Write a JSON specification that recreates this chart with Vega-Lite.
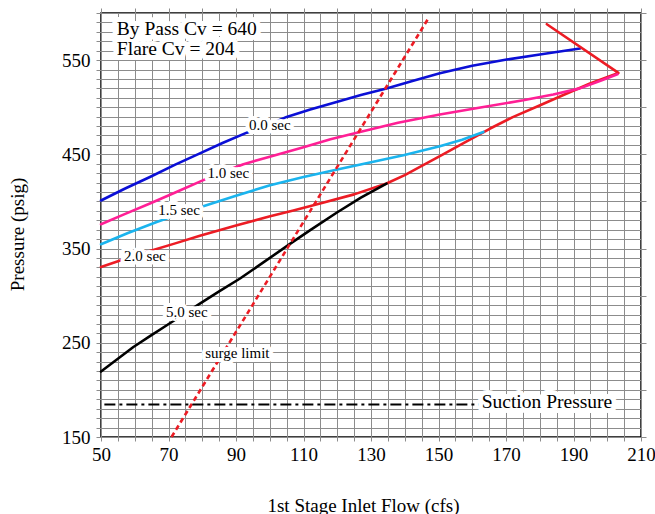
{
  "$schema": "https://vega.github.io/schema/vega-lite/v6.json",
  "autosize": {"type": "none"},
  "padding": {"left": 101, "top": 13, "right": 14, "bottom": 77},
  "width": 540,
  "height": 424,
  "background": "white",
  "config": {
    "font": "Liberation Serif",
    "view": {"stroke": "black", "strokeWidth": 1.5},
    "axis": {
      "labelFont": "Liberation Serif",
      "titleFont": "Liberation Serif",
      "labelFontSize": 19,
      "titleFontSize": 19,
      "labelColor": "black",
      "titleColor": "black",
      "titleFontWeight": "normal",
      "gridColor": "#8c8c8c",
      "gridWidth": 1,
      "gridOpacity": 1,
      "tickColor": "#8c8c8c",
      "domain": false
    }
  },
  "datasets": {
    "curves": [
      {"series": "0.0 sec", "i": 1, "x": 50, "y": 401},
      {"series": "0.0 sec", "i": 2, "x": 57, "y": 413.5},
      {"series": "0.0 sec", "i": 3, "x": 64.5, "y": 426},
      {"series": "0.0 sec", "i": 4, "x": 72, "y": 439},
      {"series": "0.0 sec", "i": 5, "x": 79.3, "y": 451},
      {"series": "0.0 sec", "i": 6, "x": 86, "y": 462},
      {"series": "0.0 sec", "i": 7, "x": 93.2, "y": 473},
      {"series": "0.0 sec", "i": 8, "x": 100, "y": 482},
      {"series": "0.0 sec", "i": 9, "x": 105, "y": 489.7},
      {"series": "0.0 sec", "i": 10, "x": 112, "y": 497.5},
      {"series": "0.0 sec", "i": 11, "x": 119.8, "y": 505.6},
      {"series": "0.0 sec", "i": 12, "x": 127, "y": 513},
      {"series": "0.0 sec", "i": 13, "x": 134.6, "y": 519.9},
      {"series": "0.0 sec", "i": 14, "x": 142, "y": 527.5},
      {"series": "0.0 sec", "i": 15, "x": 150.4, "y": 536},
      {"series": "0.0 sec", "i": 16, "x": 160, "y": 544},
      {"series": "0.0 sec", "i": 17, "x": 170.2, "y": 550.6},
      {"series": "0.0 sec", "i": 18, "x": 181, "y": 556.5},
      {"series": "0.0 sec", "i": 19, "x": 191.9, "y": 562.3},

      {"series": "2.0 sec", "i": 1, "x": 50, "y": 330.5},
      {"series": "2.0 sec", "i": 2, "x": 57, "y": 339},
      {"series": "2.0 sec", "i": 3, "x": 64.5, "y": 347.5},
      {"series": "2.0 sec", "i": 4, "x": 72, "y": 355.5},
      {"series": "2.0 sec", "i": 5, "x": 79.3, "y": 363.5},
      {"series": "2.0 sec", "i": 6, "x": 90, "y": 374.5},
      {"series": "2.0 sec", "i": 7, "x": 100.1, "y": 384.3},
      {"series": "2.0 sec", "i": 8, "x": 107, "y": 390.5},
      {"series": "2.0 sec", "i": 9, "x": 114.9, "y": 397.8},
      {"series": "2.0 sec", "i": 10, "x": 125, "y": 407.5},
      {"series": "2.0 sec", "i": 11, "x": 134.6, "y": 419},
      {"series": "2.0 sec", "i": 12, "x": 140, "y": 428},
      {"series": "2.0 sec", "i": 13, "x": 144.5, "y": 436.6},
      {"series": "2.0 sec", "i": 14, "x": 150.4, "y": 448},
      {"series": "2.0 sec", "i": 15, "x": 157, "y": 461},
      {"series": "2.0 sec", "i": 16, "x": 165.3, "y": 477.4},
      {"series": "2.0 sec", "i": 17, "x": 172, "y": 489.5},
      {"series": "2.0 sec", "i": 18, "x": 180.1, "y": 502.1},
      {"series": "2.0 sec", "i": 19, "x": 187, "y": 513},
      {"series": "2.0 sec", "i": 20, "x": 194.9, "y": 525.2},
      {"series": "2.0 sec", "i": 21, "x": 203.3, "y": 536.4},
      {"series": "2.0 sec", "i": 22, "x": 182.1, "y": 588.1},

      {"series": "1.0 sec", "i": 1, "x": 50, "y": 375.8},
      {"series": "1.0 sec", "i": 2, "x": 57, "y": 386.5},
      {"series": "1.0 sec", "i": 3, "x": 64.5, "y": 397.8},
      {"series": "1.0 sec", "i": 4, "x": 72, "y": 409.5},
      {"series": "1.0 sec", "i": 5, "x": 79.8, "y": 421.8},
      {"series": "1.0 sec", "i": 6, "x": 86, "y": 431},
      {"series": "1.0 sec", "i": 7, "x": 92.2, "y": 439.5},
      {"series": "1.0 sec", "i": 8, "x": 100, "y": 447.5},
      {"series": "1.0 sec", "i": 9, "x": 110, "y": 457.5},
      {"series": "1.0 sec", "i": 10, "x": 118, "y": 466},
      {"series": "1.0 sec", "i": 11, "x": 126.7, "y": 473.8},
      {"series": "1.0 sec", "i": 12, "x": 138, "y": 483.5},
      {"series": "1.0 sec", "i": 13, "x": 150.4, "y": 492.2},
      {"series": "1.0 sec", "i": 14, "x": 162, "y": 499.5},
      {"series": "1.0 sec", "i": 15, "x": 175.1, "y": 507.4},
      {"series": "1.0 sec", "i": 16, "x": 184, "y": 513.5},
      {"series": "1.0 sec", "i": 17, "x": 191.9, "y": 520},
      {"series": "1.0 sec", "i": 18, "x": 198, "y": 528},
      {"series": "1.0 sec", "i": 19, "x": 203, "y": 535},

      {"series": "1.5 sec", "i": 1, "x": 50, "y": 354.6},
      {"series": "1.5 sec", "i": 2, "x": 58, "y": 366.5},
      {"series": "1.5 sec", "i": 3, "x": 66.5, "y": 378.2},
      {"series": "1.5 sec", "i": 4, "x": 73, "y": 386.5},
      {"series": "1.5 sec", "i": 5, "x": 80.3, "y": 394.9},
      {"series": "1.5 sec", "i": 6, "x": 90, "y": 406},
      {"series": "1.5 sec", "i": 7, "x": 100.1, "y": 417.2},
      {"series": "1.5 sec", "i": 8, "x": 110, "y": 426},
      {"series": "1.5 sec", "i": 9, "x": 120, "y": 434},
      {"series": "1.5 sec", "i": 10, "x": 130, "y": 441.5},
      {"series": "1.5 sec", "i": 11, "x": 139.6, "y": 449},
      {"series": "1.5 sec", "i": 12, "x": 150.4, "y": 458.6},
      {"series": "1.5 sec", "i": 13, "x": 157, "y": 465.5},
      {"series": "1.5 sec", "i": 14, "x": 163.3, "y": 473.8},

      {"series": "5.0 sec", "i": 1, "x": 50, "y": 219.5},
      {"series": "5.0 sec", "i": 2, "x": 55, "y": 233},
      {"series": "5.0 sec", "i": 3, "x": 59.6, "y": 245.5},
      {"series": "5.0 sec", "i": 4, "x": 64.5, "y": 257},
      {"series": "5.0 sec", "i": 5, "x": 69.5, "y": 268.6},
      {"series": "5.0 sec", "i": 6, "x": 79.3, "y": 291.6},
      {"series": "5.0 sec", "i": 7, "x": 85, "y": 304.5},
      {"series": "5.0 sec", "i": 8, "x": 91.2, "y": 318.2},
      {"series": "5.0 sec", "i": 9, "x": 98, "y": 335},
      {"series": "5.0 sec", "i": 10, "x": 106, "y": 355},
      {"series": "5.0 sec", "i": 11, "x": 112, "y": 369.5},
      {"series": "5.0 sec", "i": 12, "x": 119.8, "y": 388},
      {"series": "5.0 sec", "i": 13, "x": 127, "y": 404},
      {"series": "5.0 sec", "i": 14, "x": 134.6, "y": 419}
    ],
    "surge": [
      {"x": 70.9, "y": 150},
      {"x": 147.2, "y": 595.5}
    ],
    "suction": [
      {"x": 51, "y": 184.5},
      {"x": 162, "y": 184.5}
    ],
    "curveLabels": [
      {"label": "0.0 sec", "x": 100, "y": 481},
      {"label": "1.0 sec", "x": 87.7, "y": 430},
      {"label": "1.5 sec", "x": 73.1, "y": 390.5},
      {"label": "2.0 sec", "x": 63, "y": 341.8},
      {"label": "5.0 sec", "x": 75.4, "y": 282.7},
      {"label": "surge limit", "x": 90.4, "y": 239}
    ],
    "notes": [
      {"label": "By Pass Cv = 640", "x": 54.7, "y": 583.5},
      {"label": "Flare Cv = 204", "x": 54.7, "y": 562.3},
      {"label": "Suction Pressure", "x": 162.8, "y": 187}
    ]
  },
  "resolve": {"axis": {"x": "independent", "y": "independent"}},
  "layer": [
    {
      "data": {"name": "curves"},
      "mark": {"type": "line", "strokeWidth": 2.6, "strokeJoin": "round", "strokeCap": "round"},
      "encoding": {
        "x": {
          "field": "x", "type": "quantitative",
          "scale": {"domain": [50, 210], "nice": false, "zero": false},
          "axis": {
            "orient": "bottom",
            "values": [50,55,60,65,70,75,80,85,90,95,100,105,110,115,120,125,130,135,140,145,150,155,160,165,170,175,180,185,190,195,200,205,210],
            "labelExpr": "(datum.value - 50) % 20 == 0 ? datum.label : ''",
            "labelOverlap": false,
            "labelFlush": false,
            "grid": true,
            "ticks": true,
            "tickSize": 4,
            "labelPadding": 4,
            "title": "1st Stage Inlet Flow (cfs)",
            "titleX": 262,
            "titleY": 68,
            "titleBaseline": "middle",
            "titleAlign": "center"
          }
        },
        "y": {
          "field": "y", "type": "quantitative",
          "scale": {"domain": [150, 600], "nice": false, "zero": false},
          "axis": {
            "orient": "left",
            "values": [150,160,170,180,190,200,210,220,230,240,250,260,270,280,290,300,310,320,330,340,350,360,370,380,390,400,410,420,430,440,450,460,470,480,490,500,510,520,530,540,550,560,570,580,590,600],
            "labelExpr": "(datum.value - 150) % 100 == 0 ? datum.label : ''",
            "labelOverlap": false,
            "labelFlush": false,
            "grid": true,
            "ticks": true,
            "tickSize": 5,
            "labelPadding": 6,
            "title": "Pressure (psig)",
            "titleX": -84,
            "titleY": 221,
            "titleBaseline": "middle",
            "titleAlign": "center"
          }
        },
        "color": {
          "field": "series", "type": "nominal",
          "scale": {
            "domain": ["0.0 sec", "1.0 sec", "1.5 sec", "2.0 sec", "5.0 sec"],
            "range": ["#0b0fd6", "#ff1f95", "#1ab4ee", "#ec1c24", "#000000"]
          },
          "legend": null
        },
        "order": {"field": "i", "type": "quantitative"}
      }
    },
    {
      "data": {"name": "surge"},
      "mark": {"type": "line", "color": "#ec1c24", "strokeWidth": 2.6, "strokeDash": [5, 3.5]},
      "encoding": {
        "x": {"field": "x", "type": "quantitative", "scale": {"domain": [50, 210], "nice": false, "zero": false}, "axis": null},
        "y": {"field": "y", "type": "quantitative", "scale": {"domain": [150, 600], "nice": false, "zero": false}, "axis": null}
      }
    },
    {
      "data": {"name": "suction"},
      "mark": {"type": "line", "color": "#000000", "strokeWidth": 2, "strokeDash": [11, 4, 3, 4]},
      "encoding": {
        "x": {
          "field": "x", "type": "quantitative",
          "scale": {"domain": [50, 210], "nice": false, "zero": false},
          "axis": {
            "orient": "top",
            "values": [50,60,70,80,90,100,110,120,130,140,150,160,170,180,190,200,210],
            "labels": false, "grid": false, "ticks": true, "tickSize": 5, "title": null
          }
        },
        "y": {
          "field": "y", "type": "quantitative",
          "scale": {"domain": [150, 600], "nice": false, "zero": false},
          "axis": {
            "orient": "right",
            "values": [150,200,250,300,350,400,450,500,550,600],
            "labels": false, "grid": false, "ticks": true, "tickSize": 5, "title": null
          }
        }
      }
    },
    {
      "data": {"name": "curveLabels"},
      "mark": {"type": "text", "font": "Liberation Serif", "fontSize": 15, "fill": "white", "stroke": "white", "strokeWidth": 8, "strokeJoin": "round", "align": "center", "baseline": "middle"},
      "encoding": {
        "x": {"field": "x", "type": "quantitative", "scale": {"domain": [50, 210], "nice": false, "zero": false}, "axis": null},
        "y": {"field": "y", "type": "quantitative", "scale": {"domain": [150, 600], "nice": false, "zero": false}, "axis": null},
        "text": {"field": "label"}
      }
    },
    {
      "data": {"name": "curveLabels"},
      "mark": {"type": "text", "font": "Liberation Serif", "fontSize": 15, "fill": "black", "align": "center", "baseline": "middle"},
      "encoding": {
        "x": {"field": "x", "type": "quantitative", "scale": {"domain": [50, 210], "nice": false, "zero": false}, "axis": null},
        "y": {"field": "y", "type": "quantitative", "scale": {"domain": [150, 600], "nice": false, "zero": false}, "axis": null},
        "text": {"field": "label"}
      }
    },
    {
      "data": {"name": "notes"},
      "mark": {"type": "text", "font": "Liberation Serif", "fontSize": 19.5, "fill": "white", "stroke": "white", "strokeWidth": 10, "strokeJoin": "round", "align": "left", "baseline": "middle"},
      "encoding": {
        "x": {"field": "x", "type": "quantitative", "scale": {"domain": [50, 210], "nice": false, "zero": false}, "axis": null},
        "y": {"field": "y", "type": "quantitative", "scale": {"domain": [150, 600], "nice": false, "zero": false}, "axis": null},
        "text": {"field": "label"}
      }
    },
    {
      "data": {"name": "notes"},
      "mark": {"type": "text", "font": "Liberation Serif", "fontSize": 19.5, "fill": "black", "align": "left", "baseline": "middle"},
      "encoding": {
        "x": {"field": "x", "type": "quantitative", "scale": {"domain": [50, 210], "nice": false, "zero": false}, "axis": null},
        "y": {"field": "y", "type": "quantitative", "scale": {"domain": [150, 600], "nice": false, "zero": false}, "axis": null},
        "text": {"field": "label"}
      }
    }
  ]
}
